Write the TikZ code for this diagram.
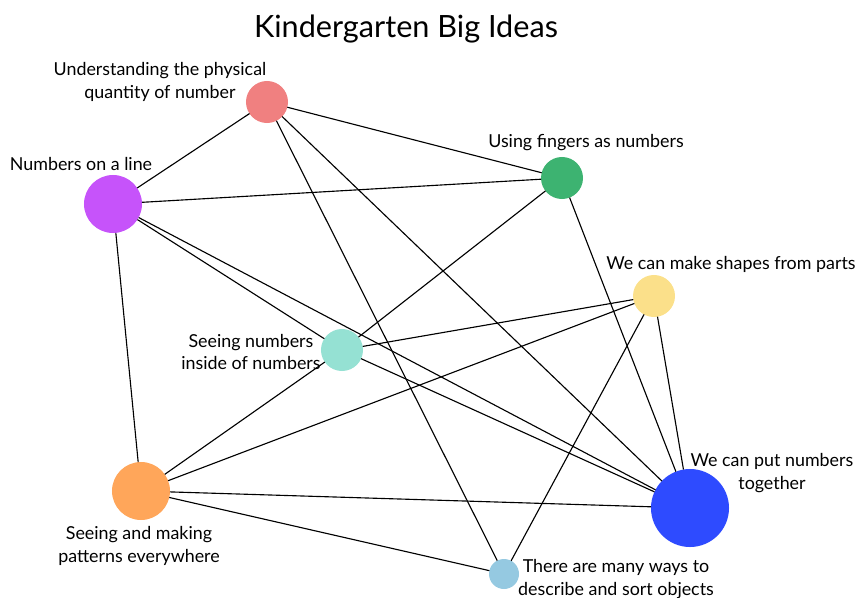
\documentclass[tikz,border=0pt]{standalone}
\usepackage{fontspec}
\setmainfont{Lato}
\usepackage{tikz}
\usetikzlibrary{shapes}
\usetikzlibrary{positioning}
\definecolor{ideared}{HTML}{F08080}
\definecolor{ideapurple}{HTML}{C653FA}
\definecolor{ideagreen}{HTML}{3DB371}
\definecolor{ideayellow}{HTML}{FBE08A}
\definecolor{ideateal}{HTML}{95E1D3}
\definecolor{ideaorange}{HTML}{FFA65A}
\definecolor{ideablue}{HTML}{2E4BFF}
\definecolor{idealight}{HTML}{95C9E1}
\tikzstyle{idea}=[circle, inner sep=0pt, outer sep=0pt]
\tikzstyle{caption}=[align=center, font=\fontsize{12.7}{16.2}\selectfont]
\tikzstyle{link}=[-, black, line width=0.8pt]
\tikzset{every picture/.style={
    x=0.025cm, y=-0.025cm
  }
}
\begin{document}
\begin{tikzpicture}
        \useasboundingbox (0,0) rectangle (857,598);
        \node at (406,29) (title) {\fontsize{21.8}{26}\selectfont Kindergarten Big Ideas};
        % ideas
        \node[idea, fill=ideared, minimum size=1.05cm] at (267,102) (physical) {};
        \node[idea, fill=ideapurple, minimum size=1.45cm] at (113,204) (numline) {};
        \node[idea, fill=ideagreen, minimum size=1.05cm] at (562,178) (fingers) {};
        \node[idea, fill=ideayellow, minimum size=1.05cm] at (654,296) (shapes) {};
        \node[idea, fill=ideateal, minimum size=1.05cm] at (342,350) (inside) {};
        \node[idea, fill=ideaorange, minimum size=1.45cm] at (141,491) (patterns) {};
        \node[idea, fill=ideablue, minimum size=1.95cm] at (690,508) (together) {};
        \node[idea, fill=idealight, minimum size=0.75cm] at (504,574) (sorting) {};
        % captions
        \node[caption] at (160,82) (physicaltext) {Understanding the physical\\quantity of number};
        \node[caption] at (81,164) (numlinetext) {Numbers on a line};
        \node[caption] at (586,143) (fingerstext) {Using fingers as numbers};
        \node[caption] at (731,264) (shapestext) {We can make shapes from parts};
        \node[caption] at (251,352) (insidetext) {Seeing numbers\\inside of numbers};
        \node[caption] at (139,546) (patternstext) {Seeing and making\\patterns everywhere};
        \node[caption] at (772,473) (togethertext) {We can put numbers\\together};
        \node[caption] at (616,579) (sortingtext) {There are many ways to\\describe and sort objects};
        % links
        \foreach \from/\to in {physical/numline, physical/fingers, physical/together, physical/sorting,
            numline/fingers, numline/patterns, numline/inside, numline/together,
            fingers/inside, fingers/together,
            shapes/inside, shapes/patterns, shapes/sorting, shapes/together,
            inside/patterns, inside/together,
            patterns/together, patterns/sorting}
          \draw[link] (\from) -- (\to);
      \end{tikzpicture}
\end{document}
